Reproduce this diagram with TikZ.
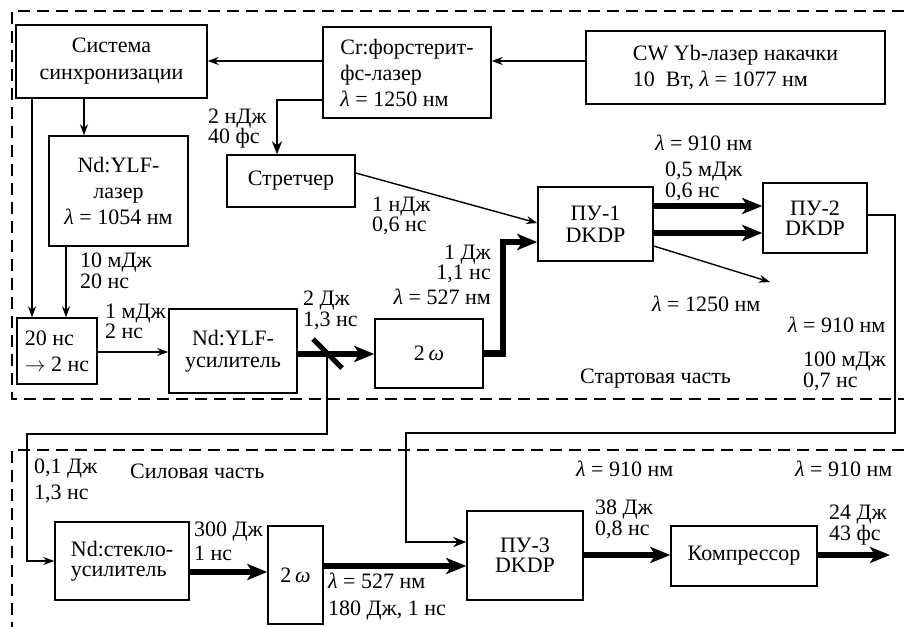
\documentclass[tikz,border=0pt]{standalone}
\usepackage{fontspec}
\setmainfont{Liberation Serif}
\usetikzlibrary{arrows.meta,calc}
\newcommand\lam{{\itshape λ}}
\newcommand\omg{{\itshape ω}}
\begin{document}
\begin{tikzpicture}[x=1pt,y=-1pt,
  font=\fontsize{22}{26}\selectfont,
  box/.style={draw,line width=1.4pt,inner sep=0pt,align=center},
  thin/.style={line width=1.4pt,-{Stealth[length=11pt,width=8pt]}},
  mid/.style={line width=2.4pt,-{Stealth[length=13pt,width=10pt]}},
  fat/.style={line width=6.5pt,-{Stealth[length=20pt,width=16pt,inset=5pt]}},
  lab/.style={inner sep=0pt,anchor=north west,align=left},
  frame/.style={line width=1.4pt,dash pattern=on 12pt off 7pt}]
\useasboundingbox (0,0) rectangle (904,626);
% frames
\draw[frame] (904,11) -- (12,11) -- (12,399) -- (904,399);
\draw[frame] (904,450) -- (12,450) -- (12,630);
% boxes
\node[box,font=\fontsize{22}{27}\selectfont,minimum width=191pt,minimum height=73pt] (sync) at (111.5,61.5) {Система\\синхронизации};
\node[box,align=left,minimum width=168pt,minimum height=91pt] (cr) at (407,72.5) {Cr:форстерит-\\фс-лазер\\\lam~=~1250 нм};
\node[box,align=left,minimum width=299pt,minimum height=73pt] (yb) at (735.5,67.5) {CW Yb-лазер накачки\\10~~Вт, \lam~=~1077 нм};
\node[box,minimum width=139pt,minimum height=110pt] (ndl) at (118.5,191) {Nd:YLF-\\лазер\\\lam~=~1054 нм};
\node[box,minimum width=128pt,minimum height=52pt] (str) at (291,181) {Стретчер};
\node[box,align=left,minimum width=80pt,minimum height=66pt] (c20) at (57,351) {20 нс\\$\rightarrow$ 2 нс};
\node[box,font=\fontsize{22}{22}\selectfont,minimum width=128pt,minimum height=84pt] (ylf) at (233,351) {Nd:YLF-\\усилитель};
\node[box,minimum width=108pt,minimum height=69pt] (shg1) at (429,353.5) {2\,\omg};
\node[box,font=\fontsize{22}{22}\selectfont,minimum width=115pt,minimum height=74pt] (pu1) at (595.5,224) {ПУ-1\\DKDP};
\node[box,font=\fontsize{22}{20}\selectfont,minimum width=104pt,minimum height=70pt] (pu2) at (815,218) {ПУ-2\\DKDP};
\node[box,align=left,font=\fontsize{22}{20}\selectfont,minimum width=134pt,minimum height=78pt] (ndg) at (122,561) {Nd:стекло-\\усилитель};
\node[box,minimum width=55pt,minimum height=98pt] (shg2) at (295.5,575) {2\,\omg};
\node[box,font=\fontsize{22}{20}\selectfont,minimum width=116pt,minimum height=89pt] (pu3) at (525,555.5) {ПУ-3\\DKDP};
\node[box,minimum width=146pt,minimum height=60pt] (cmp) at (744,556) {Компрессор};
% coordinates
\coordinate (m) at (327,354);
\coordinate (o1250) at (770,282);
\coordinate (out) at (890,555);
% connectors
\draw[thin] (yb.west |- 0,61) -- (cr.east |- 0,61);
\draw[thin] (cr.west |- 0,61) -- (sync.east |- 0,61);
\draw[mid] (cr.west |- 0,100) -| (str.north -| 277,0);
\draw[thin] (sync.south -| 84,0) -- (ndl.north -| 84,0);
\draw[thin] (sync.south -| 32,0) -- (c20.north -| 32,0);
\draw[thin] (ndl.south -| 66,0) -- (c20.north -| 66,0);
\draw[thin] (c20.east |- 0,352) -- (ylf.west |- 0,352);
\draw[fat] (ylf.east |- 0,354) -- (shg1.west |- 0,354);
\draw[line width=5pt] ($(m)+(-14,-15)$) -- ($(m)+(15,14)$);
\draw[thin] (m) |- (27,434) |- (ndg.west);
\draw[fat] (shg1.east) -- (503,353.5) -- (503,242) -- (pu1.west |- 0,242);
\draw[thin] (str.east |- 0,173) -- (pu1.west |- 0,223);
\draw[fat] (pu1.east |- 0,206) -- (pu2.west |- 0,206);
\draw[fat] (pu1.east |- 0,233) -- (pu2.west |- 0,233);
\draw[thin] (pu1.east |- 0,246) -- (o1250);
\draw[mid] (pu2.east |- 0,215) -- (895,215) -- (895,433) -- (406,433) -- (406,542) -- (pu3.west |- 0,542);
\draw[fat] (ndg.east |- 0,572) -- (shg2.west |- 0,572);
\draw[fat] (shg2.east |- 0,566) -- (pu3.west |- 0,566);
\draw[fat] (pu3.east |- 0,555) -- (cmp.west |- 0,555);
\draw[fat] (cmp.east |- 0,555) -- (out);
% labels
\node[lab,font=\fontsize{22}{20}\selectfont] (l1) at (208,109) {2 нДж\\40 фс};
\node[lab,font=\fontsize{22}{19}\selectfont] (l2) at (80,253) {10 мДж\\20 нс};
\node[lab,font=\fontsize{22}{19}\selectfont] (l3) at (105,304) {1 мДж\\2 нс};
\node[lab,font=\fontsize{22}{19}\selectfont] (l4) at (303,291) {2 Дж\\1,3 нс};
\node[lab,anchor=north east,align=right,font=\fontsize{22}{20}\selectfont] (l5) at (491,245) {1 Дж\\1,1 нс\\[5pt]\lam~=~527 нм};
\node[lab,font=\fontsize{22}{20}\selectfont] (l6) at (372,197) {1 нДж\\0,6 нс};
\node[lab] (l7) at (655,135) {\lam~=~910 нм};
\node[lab,font=\fontsize{22}{17}\selectfont] (l8) at (665,162) {0,5 мДж\\0,6 нс};
\node[lab] (l9) at (652,296) {\lam~=~1250 нм};
\node[lab] (l10) at (788,317) {\lam~=~910 нм};
\node[lab,font=\fontsize{22}{17}\selectfont] (l11) at (803,352) {100 мДж\\0,7 нс};
\node[lab] (l12) at (580,369) {Стартовая часть};
\node[lab,font=\fontsize{22}{26}\selectfont] (l13) at (34,459) {0,1 Дж\\1,3 нс};
\node[lab] (l14) at (130,464) {Силовая часть};
\node[lab,font=\fontsize{22}{24}\selectfont] (l15) at (194,522) {300 Дж\\1 нс};
\node[lab,font=\fontsize{22}{27}\selectfont] (l16) at (328,573) {\lam~=~527 нм\\180 Дж, 1 нс};
\node[lab,font=\fontsize{22}{18}\selectfont] (l17) at (595,500) {38 Дж\\0,8 нс};
\node[lab] (l18) at (576,461) {\lam~=~910 нм};
\node[lab] (l19) at (795,461) {\lam~=~910 нм};
\node[lab,font=\fontsize{22}{18}\selectfont] (l20) at (829,505) {24 Дж\\43 фс};
\end{tikzpicture}
\end{document}
